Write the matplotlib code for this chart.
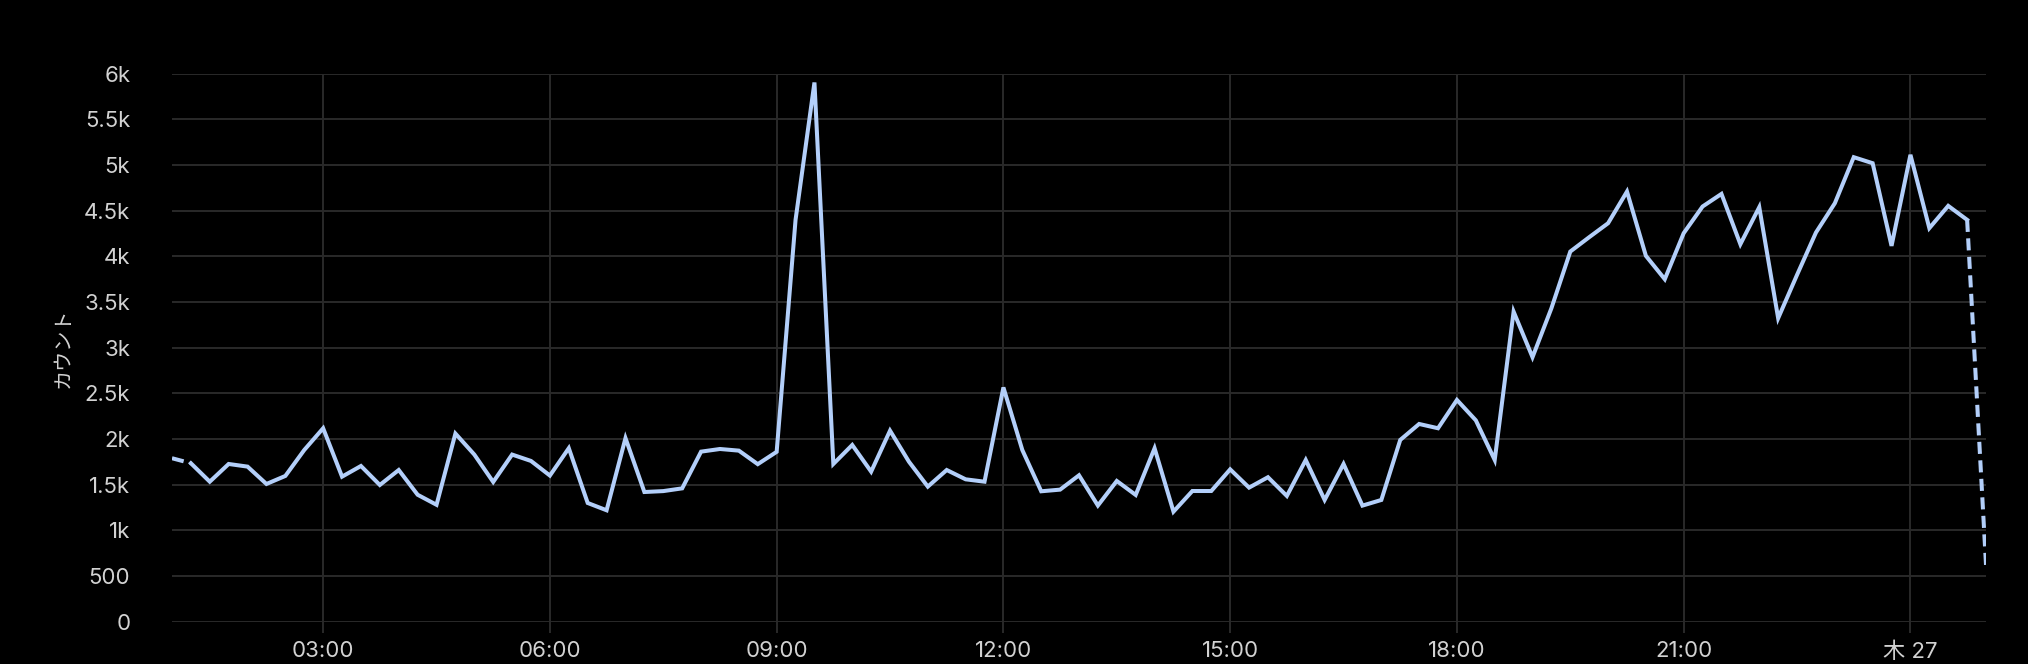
import matplotlib
matplotlib.use("Agg")
import matplotlib.pyplot as plt
import matplotlib.dates as mdates
import matplotlib.ticker as mticker
import pandas as pd

plt.rcParams['font.family'] = ['Inter', 'Noto Sans CJK JP', 'DejaVu Sans']

# 15-minute counts, 26th 01:00 -> 27th 01:00
times = pd.date_range('2025-02-26 01:00', '2025-02-27 01:00', freq='15min')
counts = [
    1790, 1735, 1533, 1727, 1698, 1508, 1596, 1880, 2118, 1588,
    1705, 1497, 1661, 1390, 1280, 2060, 1830, 1530, 1830, 1760,
    1600, 1900, 1300, 1220, 2010, 1420, 1430, 1460, 1862, 1891,
    1873, 1725, 1860, 4400, 5904, 1727, 1935, 1643, 2092, 1752,
    1479, 1661, 1559, 1533, 2565, 1880, 1428, 1446, 1603, 1272,
    1541, 1388, 1899, 1205, 1431, 1431, 1668, 1468, 1582, 1377,
    1771, 1333, 1727, 1271, 1333, 1990, 2165, 2118, 2428, 2205,
    1771, 3395, 2896, 3432, 4053, 4210, 4363, 4710, 4006, 3750,
    4254, 4546, 4684, 4133, 4539, 3323, 3798, 4261, 4582, 5086,
    5020, 4115, 5112, 4309, 4553, 4400, 620,
]
y_ticks = [0, 500, 1000, 1500, 2000, 2500, 3000, 3500, 4000, 4500, 5000, 5500, 6000]
y_label = 'カウント'

LINE = '#b3cffa'
GRID = '#2a2a2a'
TEXT = '#d2d2d2'

fig = plt.figure(figsize=(20.28, 6.64), dpi=100, facecolor='black')
ax = fig.add_axes([0.0848, 0.0637, 0.8945, 0.8253])
ax.set_facecolor('black')

# dashed (incomplete) first and last buckets, solid in between
ax.plot(times[:2], counts[:2], color=LINE, lw=2.9, dashes=(3, 1.6), solid_capstyle='butt')
ax.plot(times[1:-1], counts[1:-1], color=LINE, lw=2.9, solid_joinstyle='miter')
ax.plot(times[-2:], counts[-2:], color=LINE, lw=2.9, dashes=(3, 1.6))

ax.set_xlim(times[0], times[-1])
ax.set_ylim(0, 6000)
ax.set_yticks(y_ticks)


def fmt_y(v, pos):
    if v == 0:
        return '0'
    if v < 1000:
        return f'{int(v)}'
    k = v / 1000
    return f'{k:g}k'


def fmt_x(v, pos):
    d = mdates.num2date(v)
    if d.hour == 0:
        return f'木 {d.day}'
    return d.strftime('%H:%M')


ax.yaxis.set_major_formatter(mticker.FuncFormatter(fmt_y))
ax.xaxis.set_major_locator(mdates.HourLocator(byhour=range(0, 24, 3)))
ax.xaxis.set_major_formatter(mticker.FuncFormatter(fmt_x))

ax.grid(True, color=GRID, lw=1.4)
ax.set_axisbelow(True)
for s in ax.spines.values():
    s.set_visible(False)

ax.tick_params(axis='x', colors=GRID, length=8, width=1.4, pad=6, labelsize=16, labelcolor=TEXT)
ax.tick_params(axis='y', length=0, pad=30, labelsize=16, labelcolor=TEXT)
ax.set_ylabel(y_label, color=TEXT, fontsize=14.5, labelpad=8)

fig.savefig('out.png', dpi=100, facecolor='black')
